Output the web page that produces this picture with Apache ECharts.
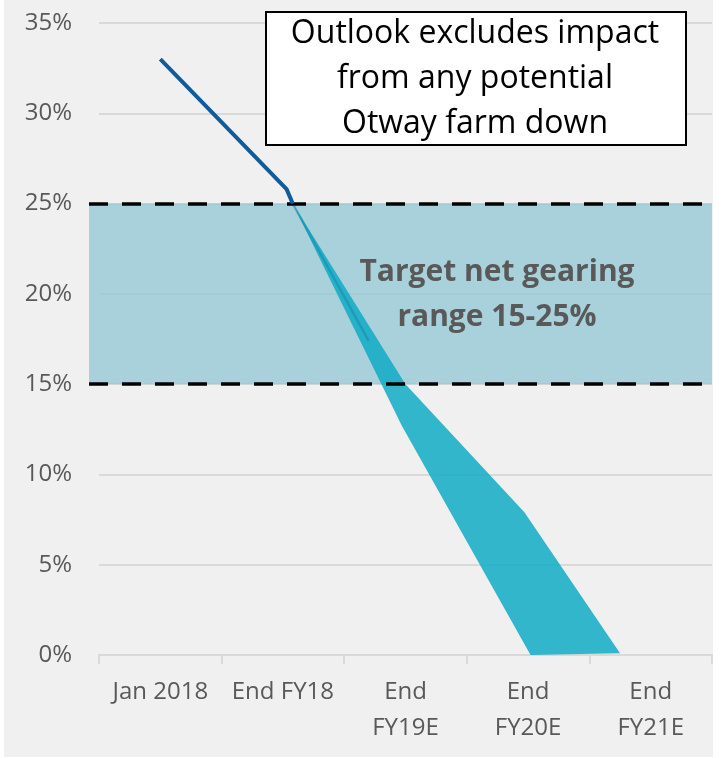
<!DOCTYPE html>
<html>
<head>
<meta charset="utf-8">
<script src="https://cdn.jsdelivr.net/npm/echarts@6/dist/echarts.min.js"></script>
<style>
  html, body { margin: 0; padding: 0; background: #ffffff; }
  #chart { position: absolute; left: 4px; top: 0; width: 709px; height: 757px; }
</style>
</head>
<body>
<div id="chart"></div>
<script>
// categories on the x axis
const categories = ["Jan 2018", "End FY18", "End\nFY19E", "End\nFY20E", "End\nFY21E"];
const yTicks = [0, 5, 10, 15, 20, 25, 30, 35];

// actual net gearing (x = category index)
const actualLine = [[0, 33], [1.03, 25.8], [1.08, 25.0]];
// outlook fan: upper and lower edges
const fanUpper = [[1.08, 25.0], [2.0, 15.0], [2.97, 7.9], [3.75, 0.1]];
const fanLower = [[1.08, 25.0], [1.97, 12.7], [3.02, 0]];
// faint darker stroke inside the fan
const fanInner = [[1.08, 25.0], [1.70, 17.4]];
// target range
const targetRange = [15, 25];

const font = "'Open Sans', 'Noto Sans', sans-serif";
const chart = echarts.init(document.getElementById("chart"));

const option = {
  backgroundColor: "#f0f0f0",
  animation: false,
  grid: [
    { left: 95, right: 1, top: 23, bottom: 102 },
    { left: 85, right: 1, top: 23, bottom: 102 }
  ],
  xAxis: [
    {
      type: "category",
      gridIndex: 0,
      data: categories,
      boundaryGap: true,
      axisLine: { lineStyle: { color: "#d9d9d9", width: 2 } },
      axisTick: { show: true, length: 9, lineStyle: { color: "#d9d9d9", width: 2 } },
      axisLabel: {
        color: "#595959",
        fontFamily: font,
        fontSize: 24,
        lineHeight: 36,
        margin: 19,
        interval: 0
      }
    },
    { type: "value", gridIndex: 0, min: -0.5, max: 4.5, show: false },
    { type: "value", gridIndex: 1, min: 0, max: 1, show: false }
  ],
  yAxis: [
    {
      type: "value",
      gridIndex: 0,
      min: yTicks[0],
      max: yTicks[yTicks.length - 1],
      interval: 5,
      axisLine: { show: false },
      axisTick: { show: false },
      axisLabel: {
        formatter: "{value}%",
        color: "#595959",
        fontFamily: font,
        fontSize: 24,
        margin: 27
      },
      splitLine: { lineStyle: { color: "#d9d9d9", width: 2 } }
    },
    { type: "value", gridIndex: 1, min: 0, max: 35, show: false }
  ],
  series: [
    {
      // target band + dashed limits
      type: "line",
      xAxisIndex: 2,
      yAxisIndex: 1,
      data: [[0, 0]],
      symbol: "none",
      lineStyle: { opacity: 0 },
      z: 1,
      silent: true,
      markArea: {
        silent: true,
        itemStyle: { color: "rgba(140,197,210,0.72)" },
        data: [[{ yAxis: targetRange[0] }, { yAxis: targetRange[1] }]]
      },
      markLine: {
        silent: true,
        symbol: "none",
        label: { show: false },
        lineStyle: { color: "#000", type: [19, 14], width: 3.5 },
        data: targetRange.map(v => ({ yAxis: v }))
      }
    },
    {
      // outlook fan
      type: "custom",
      xAxisIndex: 1,
      yAxisIndex: 0,
      data: [0],
      z: 3,
      renderItem: function (params, api) {
        const pts = fanUpper.concat(fanLower.slice().reverse()).map(p => api.coord(p));
        return {
          type: "polygon",
          shape: { points: pts },
          style: { fill: "rgba(15,172,198,0.85)" }
        };
      }
    },
    {
      type: "line",
      xAxisIndex: 1,
      yAxisIndex: 0,
      data: fanInner,
      symbol: "none",
      z: 4,
      lineStyle: { color: "rgba(20,130,165,0.45)", width: 2.5 }
    },
    {
      type: "line",
      xAxisIndex: 1,
      yAxisIndex: 0,
      data: actualLine,
      symbol: "none",
      z: 5,
      lineStyle: { color: "#105b9c", width: 4 }
    }
  ],
  graphic: [
    {
      type: "rect",
      left: 261,
      top: 11,
      z: 10,
      shape: { width: 420, height: 133 },
      style: { fill: "#ffffff", stroke: "#000000", lineWidth: 2 }
    },
    {
      type: "text",
      x: 471,
      y: 79,
      z: 11,
      style: {
        text: "Outlook excludes impact\nfrom any potential\nOtway farm down",
        align: "center",
        verticalAlign: "middle",
        fontFamily: font,
        fontSize: 32,
        lineHeight: 45,
        fill: "#000000"
      }
    },
    {
      type: "text",
      x: 493,
      y: 295,
      z: 11,
      style: {
        text: "Target net gearing\nrange 15-25%",
        align: "center",
        verticalAlign: "middle",
        fontFamily: font,
        fontWeight: "bold",
        fontSize: 30,
        lineHeight: 45,
        fill: "#595959"
      }
    }
  ]
};

chart.setOption(option);
window.addEventListener("resize", () => chart.resize());
</script>
</body>
</html>
